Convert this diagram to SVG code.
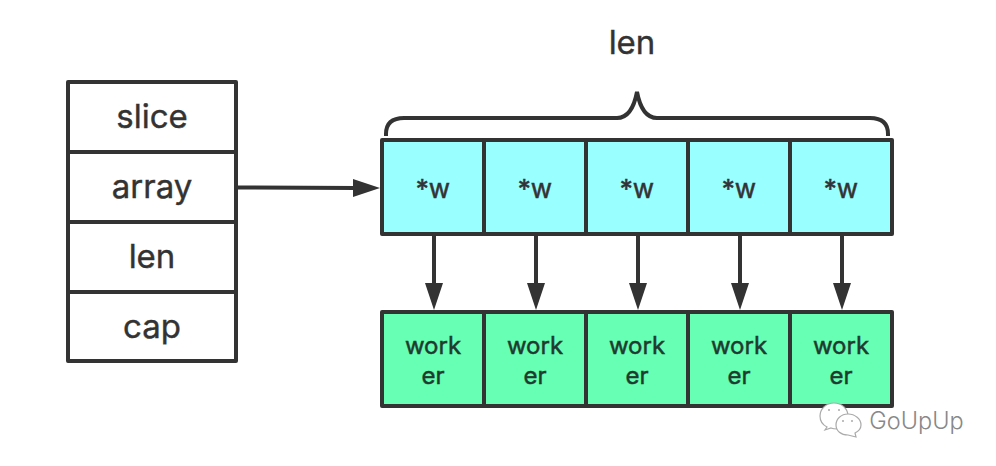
<svg xmlns="http://www.w3.org/2000/svg" width="996" height="466" viewBox="0 0 996 466">
<style>
.b{stroke:#333;stroke-width:4;stroke-linejoin:round}
.w{fill:#fff}.c{fill:#99ffff}.g{fill:#66ffb3}
text{font-family:Inter,"Liberation Sans",sans-serif;fill:#333;text-anchor:middle}
.l{font-size:33px;stroke:#333;stroke-width:.4}.s{font-size:26px;stroke:#333;stroke-width:.5}.n{font-size:24px;fill:#1f3a2e;stroke:#1f3a2e;stroke-width:.5}
.ln{fill:none;stroke:#333;stroke-width:4}
.wm{fill:#fff;stroke:#aaa;stroke-width:1.2}
</style>
<rect width="996" height="466" fill="#fff"/>
<g id="connectors">
<path class="ln" d="M238 187.500L356 188"/>
<path d="M353 179L380 188L353 197Z" fill="#333"/>
<g id="down">
<path class="ln" d="M434 235V285M536 235V285M638 235V285M740 235V285M842 235V285"/>
<path fill="#333" d="M425 283H443L434 310ZM527 283H545L536 310ZM629 283H647L638 310ZM731 283H749L740 310ZM833 283H851L842 310Z"/>
</g>
<path id="brace" class="ln" d="M386 136V134Q386 118 404 118H617Q632 118 637 92Q642 118 657 118H870Q888 118 888 134V136"/>
</g>
<g id="slice"><rect class="b w" x="68" y="82" width="168" height="70"/><text class="l" x="152" y="128">slice</text></g>
<g id="array"><rect class="b w" x="68" y="152" width="168" height="70"/><text class="l" x="152" y="198">array</text></g>
<g id="len-field"><rect class="b w" x="68" y="222" width="168" height="70"/><text class="l" x="152" y="268">len</text></g>
<g id="cap"><rect class="b w" x="68" y="292" width="168" height="69"/><text class="l" x="152" y="338">cap</text></g>
<text id="len" class="l" x="632" y="54">len</text>
<g id="p1"><rect class="b c" x="382" y="140" width="102" height="94"/><text class="s" x="433" y="198">*w</text></g>
<g id="p2"><rect class="b c" x="484" y="140" width="102" height="94"/><text class="s" x="535" y="198">*w</text></g>
<g id="p3"><rect class="b c" x="586" y="140" width="102" height="94"/><text class="s" x="637" y="198">*w</text></g>
<g id="p4"><rect class="b c" x="688" y="140" width="102" height="94"/><text class="s" x="739" y="198">*w</text></g>
<g id="p5"><rect class="b c" x="790" y="140" width="102" height="94"/><text class="s" x="841" y="198">*w</text></g>
<g id="w1"><rect class="b g" x="382" y="312" width="102" height="94"/><text class="n" x="433" y="354">work</text><text class="n" x="433" y="384">er</text></g>
<g id="w2"><rect class="b g" x="484" y="312" width="102" height="94"/><text class="n" x="535" y="354">work</text><text class="n" x="535" y="384">er</text></g>
<g id="w3"><rect class="b g" x="586" y="312" width="102" height="94"/><text class="n" x="637" y="354">work</text><text class="n" x="637" y="384">er</text></g>
<g id="w4"><rect class="b g" x="688" y="312" width="102" height="94"/><text class="n" x="739" y="354">work</text><text class="n" x="739" y="384">er</text></g>
<g id="w5"><rect class="b g" x="790" y="312" width="102" height="94"/><text class="n" x="841" y="354">work</text><text class="n" x="841" y="384">er</text></g>
<g id="watermark">
<path class="wm" d="M834 403C826 403 820 409 820 416C820 421 823 425 827 427L825 430L831 428C833 429 836 429 838 429C846 429 848 422 848 416C848 409 842 403 834 403Z"/>
<path class="wm" d="M848 414C841 414 836 419 836 425C836 431 841 435 848 435L856 437L855 433C859 431 861 428 861 425C861 419 855 414 848 414Z"/>
<circle cx="829" cy="410" r="1" fill="#aaa"/><circle cx="839" cy="410" r="1" fill="#aaa"/>
<circle cx="843" cy="421" r="1" fill="#aaa"/><circle cx="852" cy="421" r="1" fill="#aaa"/>
<text x="916.500" y="429" style="font-size:23.500px;fill:#888;font-weight:300">GoUpUp</text>
</g>
</svg>
